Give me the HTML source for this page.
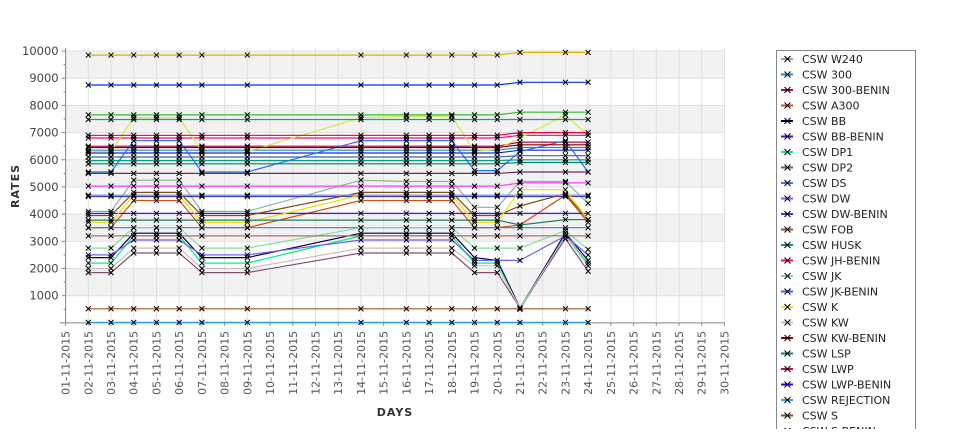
<!DOCTYPE html>
<html><head><meta charset="utf-8">
<style>
html,body{margin:0;padding:0;background:#fff;}
body{width:975px;height:429px;overflow:hidden;font-family:"Liberation Sans","DejaVu Sans",sans-serif;}
svg text{font-family:"DejaVu Sans","Liberation Sans",sans-serif;}
</style></head>
<body>
<svg id="chart" width="975" height="429" xmlns="http://www.w3.org/2000/svg"></svg>
<script>
const categories = [2,3,4,5,6,7,9,14,16,17,18,19,20,21,23,24];
const yTicks = [1000,2000,3000,4000,5000,6000,7000,8000,9000,10000];
const xTickDays = [1,2,3,4,5,6,7,8,9,10,11,12,13,14,15,16,17,18,19,20,21,22,23,24,25,26,27,28,29,30];
const seriesNames = ["CSW  W240","CSW 300","CSW 300-BENIN","CSW A300","CSW BB","CSW BB-BENIN","CSW DP1","CSW DP2","CSW DS","CSW DW","CSW DW-BENIN","CSW FOB","CSW HUSK","CSW JH-BENIN","CSW JK","CSW JK-BENIN","CSW K","CSW KW","CSW KW-BENIN","CSW LSP","CSW LWP","CSW LWP-BENIN","CSW REJECTION","CSW S","CSW S-BENIN"];
const seriesColors = ["#8fb08f","#1890c0","#c00040","#d05010","#000050","#2020d0","#00f080","#805070","#5070e0","#7060f0","#3040c0","#a05020","#00a080","#ff0080","#80e0a0","#2070ff","#c8f040","#c8c0b8","#800000","#008070","#e00040","#2000ff","#30a0e0","#805010","#e0b000"];
const s0=[4100,4100,5250,5250,5250,4100,4100,5250,5200,5200,5200,4250,4250,5200,5200,4400];
const s1=[6350,6350,6350,6350,6350,6350,6350,6350,6350,6350,6350,6350,6350,6450,6450,6450];
const s2=[6500,6500,6500,6500,6500,6500,6500,6500,6500,6500,6500,6500,6500,6650,6650,6650];
const s3=[3500,3500,4500,4500,4500,3500,3500,4500,4500,4500,4500,3500,3500,3600,4700,3700];
const s4=[2400,2400,3300,3300,3300,2400,2400,3300,3300,3300,3300,2400,2300,550,3300,2300];
const s5=[6250,6250,6250,6250,6250,6250,6250,6250,6250,6250,6250,6250,6250,6350,6350,6350];
const s6=[2200,2200,3200,3200,3200,2200,2200,3200,3200,3200,3200,2200,2200,500,3200,2200];
const s7=[1850,1850,2570,2570,2570,1850,1850,2570,2570,2570,2570,1850,1850,550,3100,1900];
const s8=[3500,3500,3500,3500,3500,3500,3500,3500,3500,3500,3500,3500,3500,3500,3500,3500];
const s9=[2500,2500,3050,3050,3050,2500,2500,3050,3050,3050,3050,2300,2300,2300,3200,2500];
const s10=[4650,4650,4650,4650,4650,4650,4650,4650,4650,4650,4650,4650,4650,4650,4650,4650];
const s11=[520,520,520,520,520,520,520,520,520,520,520,520,520,520,520,520];
const s12=[5970,5970,5970,5970,5970,5970,5970,5970,5970,5970,5970,5970,5970,6000,6000,6000];
const s13=[6800,6800,6800,6800,6800,6800,6800,6800,6800,6800,6800,6800,6800,6900,6900,6900];
const s14=[2750,2750,3500,3500,3500,2750,2750,3500,3500,3500,3500,2750,2750,2750,3400,2700];
const s15=[5550,5550,6700,6700,6700,5550,5550,6700,6700,6700,6700,5600,5600,6300,6700,5550];
const s16=[6300,6300,7550,7550,7550,6300,6300,7550,7600,7600,7600,6300,6400,6800,7650,6900];
const s17=[2000,2000,2750,2750,2750,2000,2000,2750,2750,2750,2750,2100,2100,550,3200,2100];
const s18=[6450,6450,6450,6450,6450,6450,6450,6450,6450,6450,6450,6450,6450,6550,6550,6550];
const s19=[5850,5850,5850,5850,5850,5850,5850,5850,5850,5850,5850,5850,5850,5900,5900,5900];
const s20=[6900,6900,6900,6900,6900,6900,6900,6900,6900,6900,6900,6900,6900,7000,7000,7000];
const s21=[4030,4030,4030,4030,4030,4030,4030,4030,4030,4030,4030,4030,4030,4030,4030,4030];
const s22=[20,20,20,20,20,20,20,20,20,20,20,20,20,20,20,20];
const s23=[3950,3950,4800,4800,4800,3950,3950,4800,4800,4800,4800,3950,3950,4300,4750,3800];
const s24=[9850,9850,9850,9850,9850,9850,9850,9850,9850,9850,9850,9850,9850,9950,9950,9950];
const extraNames=["CSW S2","CSW S3","CSW S4","CSW S5","CSW S6","CSW S7","CSW S8","CSW S9","CSW S10","CSW S11"];
const extraColors=["#0030e0","#30c030","#309090","#ff40ff","#e8e000","#9090d0","#b07070","#208060","#603060","#4060a0"];
const e0=[8750,8750,8750,8750,8750,8750,8750,8750,8750,8750,8750,8750,8750,8850,8850,8850];
const e1=[7650,7650,7650,7650,7650,7650,7650,7650,7650,7650,7650,7650,7650,7750,7750,7750];
const e2=[7480,7480,7480,7480,7480,7480,7480,7480,7480,7480,7480,7480,7480,7480,7480,7480];
const e3=[5030,5030,5030,5030,5030,5030,5030,5030,5030,5030,5030,5030,5030,5150,5150,5150];
const e4=[3700,3700,4700,4700,4700,3700,3700,4700,4700,4700,4700,3700,3700,4900,4900,3800];
const e5=[4700,4700,4700,4700,4700,4700,4700,4700,4700,4700,4700,4700,4700,4700,4700,4700];
const e6=[3200,3200,3200,3200,3200,3200,3200,3200,3200,3200,3200,3200,3200,3200,3200,3200];
const e7=[3780,3780,3780,3780,3780,3780,3780,3780,3780,3780,3780,3780,3780,3600,3800,3800];
const e8=[5500,5500,5500,5500,5500,5500,5500,5500,5500,5500,5500,5500,5500,5550,5550,5550];
const e9=[6100,6100,6100,6100,6100,6100,6100,6100,6100,6100,6100,6100,6100,6150,6150,6150];
const seriesValues=[s0,s1,s2,s3,s4,s5,s6,s7,s8,s9,s10,s11,s12,s13,s14,s15,s16,s17,s18,s19,s20,s21,s22,s23,s24,e0,e1,e2,e3,e4,e5,e6,e7,e8,e9];

const NS="http://www.w3.org/2000/svg";
const svg=document.getElementById('chart');
const PL=65.6, PR=725, PT=48, PB=322.9;
function xs(d){return 88.3+(d-2)*22.72;}
function ys(v){return PB-v*0.02719;}
function mk(tag,attrs,parent){const e=document.createElementNS(NS,tag);for(const k in attrs)e.setAttribute(k,attrs[k]);(parent||svg).appendChild(e);return e;}

for(let k=0;k<10;k++){
  if(k%2===1){
    const top=Math.max(PT,ys(k*1000+1000));
    const r=mk('rect',{x:PL,y:top,width:PR-PL,height:ys(k*1000)-top,fill:'#f2f2f2'});
    
    
  }
}
xTickDays.forEach(d=>{
  const l=mk('line',{x1:xs(d),x2:xs(d),y1:PT,y2:PB,stroke:'#e0e0e0','stroke-width':1});
  
  
});
yTicks.forEach(v=>{
  const l=mk('line',{x1:PL,x2:PR,y1:ys(v),y2:ys(v),stroke:'#e0e0e0','stroke-width':1});
  
  
  const t=mk('line',{x1:PL-4,x2:PL,y1:ys(v),y2:ys(v),stroke:'#888'});
  
  
  const mt=mk('line',{x1:PL-2,x2:PL,y1:ys(v-500),y2:ys(v-500),stroke:'#888'});
  
  
  const tx=mk('text',{x:PL-7,y:ys(v)+4,'text-anchor':'end','font-size':'11.5',fill:'#444'});
  tx.textContent=String(v);
  
  
});
xTickDays.forEach(d=>{
  const t=mk('line',{x1:xs(d),x2:xs(d),y1:PB,y2:PB+3,stroke:'#888'});
  
  
  const dd=(d<10?'0':'')+d;
  const tx=mk('text',{x:0,y:0,'text-anchor':'end','font-size':'11',fill:'#555',transform:'translate('+(xs(d)+4)+','+(PB+8)+') rotate(-90)'});
  tx.textContent=dd+'-11-2015';
  
  
});
const ax=mk('line',{x1:PL,x2:PL,y1:PT,y2:PB,stroke:'#888'});


const bx=mk('line',{x1:PL-6,x2:PR,y1:PB,y2:PB,stroke:'#888'});



const allColors=seriesColors.concat(extraColors);
const allNames=seriesNames.concat(extraNames);
seriesValues.forEach((vals,i)=>{
  const g=mk('g',{});
  
  
  const pts=vals.map((v,j)=>xs(categories[j]).toFixed(1)+','+ys(v).toFixed(1)).join(' ');
  const pl=mk('polyline',{points:pts,fill:'none',stroke:allColors[i],'stroke-width':1.2},g);
  
  
});
seriesValues.forEach((vals,i)=>{
  vals.forEach((v,j)=>{
    const x=xs(categories[j]),y=ys(v);
    const p=mk('path',{d:`M${x-2.5},${y-2.5}L${x+2.5},${y+2.5}M${x-2.5},${y+2.5}L${x+2.5},${y-2.5}`,stroke:'#000','stroke-width':1});
    
    
  });
});
const yt=mk('text',{x:0,y:0,'text-anchor':'middle','font-size':'11','font-weight':'bold',fill:'#333',transform:'translate(19,186) rotate(-90)','letter-spacing':'1'});
yt.textContent='RATES';


const xt=mk('text',{x:395,y:416,'text-anchor':'middle','font-size':'11','font-weight':'bold',fill:'#333','letter-spacing':'1'});
xt.textContent='DAYS';


const lg=mk('g',{});


const lr=mk('rect',{x:776.5,y:50.5,width:139,height:390,fill:'#fff',stroke:'#888'},lg);


seriesNames.forEach((n,i)=>{
  const y=59+i*15.5;
  const e=mk('g',{},lg);
  
  
  mk('line',{x1:781,x2:793,y1:y,y2:y,stroke:seriesColors[i],'stroke-width':2},e);
  mk('path',{d:`M${784.5},${y-3}L${790.5},${y+3}M${784.5},${y+3}L${790.5},${y-3}`,stroke:'#000','stroke-width':1},e);
  const t=mk('text',{x:802,y:y+4,'font-size':'11',fill:'#222'},e);
  t.textContent=n;
});
</script>
</body></html>
